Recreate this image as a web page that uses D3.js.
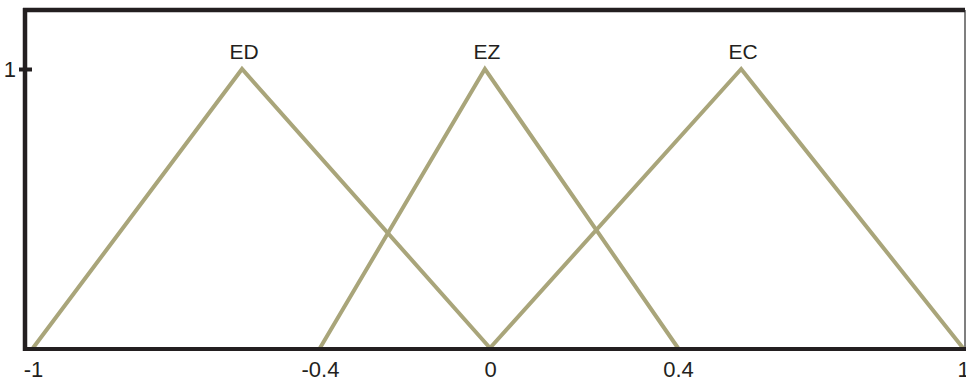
<!DOCTYPE html>
<html>
<head>
<meta charset="utf-8">
<script src="https://cdn.jsdelivr.net/npm/d3@7/dist/d3.min.js"></script>
<style>
  html, body { margin: 0; padding: 0; background: #ffffff; }
  svg { display: block; }
  text { font-family: "Liberation Sans", Arial, sans-serif; fill: #231f20; }
</style>
</head>
<body>
<svg id="chart" width="966" height="383"></svg>
<script>
// Membership functions: names and their triangle vertices (x, degree)
const setNames = ["ED", "EZ", "EC"];
const edPoints = [[-1, 0], [-0.563, 1], [0, 0]];
const ezPoints = [[-0.4, 0], [-0.012, 1], [0.4, 0]];
const ecPoints = [[0, 0], [0.533, 1], [1, 0]];
const xTickValues = [-1, -0.4, 0, 0.4, 1];
const xTickLabels = ["-1", "-0.4", "0", "0.4", "1"];
const yTickValues = [1];
const yTickLabels = ["1"];

const sets = [edPoints, ezPoints, ecPoints];

const svg = d3.select("#chart");
const frame = { left: 25, right: 965, top: 10, bottom: 349 };

// Piecewise-linear x scale anchored on the labelled ticks
const x = d3.scaleLinear()
  .domain(xTickValues)
  .range([33, 320, 490, 678, 963]);
const y = d3.scaleLinear().domain([0, 1]).range([348, 69]);

const ink = "#231f20";
const curveColor = "#a9a57a";

// Frame: thin right edge, heavy top/left/bottom
svg.append("line")
  .attr("x1", frame.right).attr("x2", frame.right)
  .attr("y1", frame.top).attr("y2", frame.bottom)
  .attr("stroke", "#555").attr("stroke-width", 1.5);
svg.append("line")
  .attr("x1", frame.left - 2).attr("x2", frame.right)
  .attr("y1", frame.top).attr("y2", frame.top)
  .attr("stroke", ink).attr("stroke-width", 4.5);

// Triangular membership curves
const line = d3.line().x(d => x(d[0])).y(d => y(d[1]));
svg.selectAll("path.mf")
  .data(sets)
  .join("path")
  .attr("class", "mf")
  .attr("d", line)
  .attr("fill", "none")
  .attr("stroke", curveColor)
  .attr("stroke-width", 4)
  .attr("stroke-linejoin", "miter");

// Set labels above each peak
svg.selectAll("text.mf-label")
  .data(sets)
  .join("text")
  .attr("class", "mf-label")
  .attr("x", d => x(d[1][0]) + 2)
  .attr("y", d => y(d[1][1]) - 10)
  .attr("text-anchor", "middle")
  .attr("font-size", 21)
  .text((d, i) => setNames[i]);

// Left and bottom axes drawn as heavy lines
svg.append("line")
  .attr("x1", frame.left).attr("x2", frame.left)
  .attr("y1", frame.top - 2).attr("y2", frame.bottom + 2)
  .attr("stroke", ink).attr("stroke-width", 4.5);
svg.append("line")
  .attr("x1", frame.left - 2).attr("x2", frame.right + 1)
  .attr("y1", frame.bottom).attr("y2", frame.bottom)
  .attr("stroke", ink).attr("stroke-width", 4);

// X tick labels
const xAxis = d3.axisBottom(x)
  .tickValues(xTickValues)
  .tickSize(0)
  .tickFormat((d, i) => xTickLabels[i]);
const gx = svg.append("g")
  .attr("transform", `translate(0,${frame.bottom})`)
  .call(xAxis);
gx.select(".domain").remove();
gx.selectAll("text")
  .attr("y", 28)
  .attr("dy", 0)
  .attr("font-size", 22)
  .style("font-family", '"Liberation Sans", Arial, sans-serif')
  .attr("fill", ink);

// Y tick with label
const yAxis = d3.axisLeft(y)
  .tickValues(yTickValues)
  .tickSize(0)
  .tickFormat((d, i) => yTickLabels[i]);
const gy = svg.append("g")
  .attr("transform", `translate(${frame.left},0)`)
  .call(yAxis);
gy.select(".domain").remove();
gy.selectAll("text")
  .attr("x", -9)
  .attr("dy", "0.36em")
  .attr("font-size", 22)
  .style("font-family", '"Liberation Sans", Arial, sans-serif')
  .attr("fill", ink);
gy.selectAll(".tick").append("line")
  .attr("x1", -6).attr("x2", 7)
  .attr("stroke", ink).attr("stroke-width", 4);
</script>
</body>
</html>
